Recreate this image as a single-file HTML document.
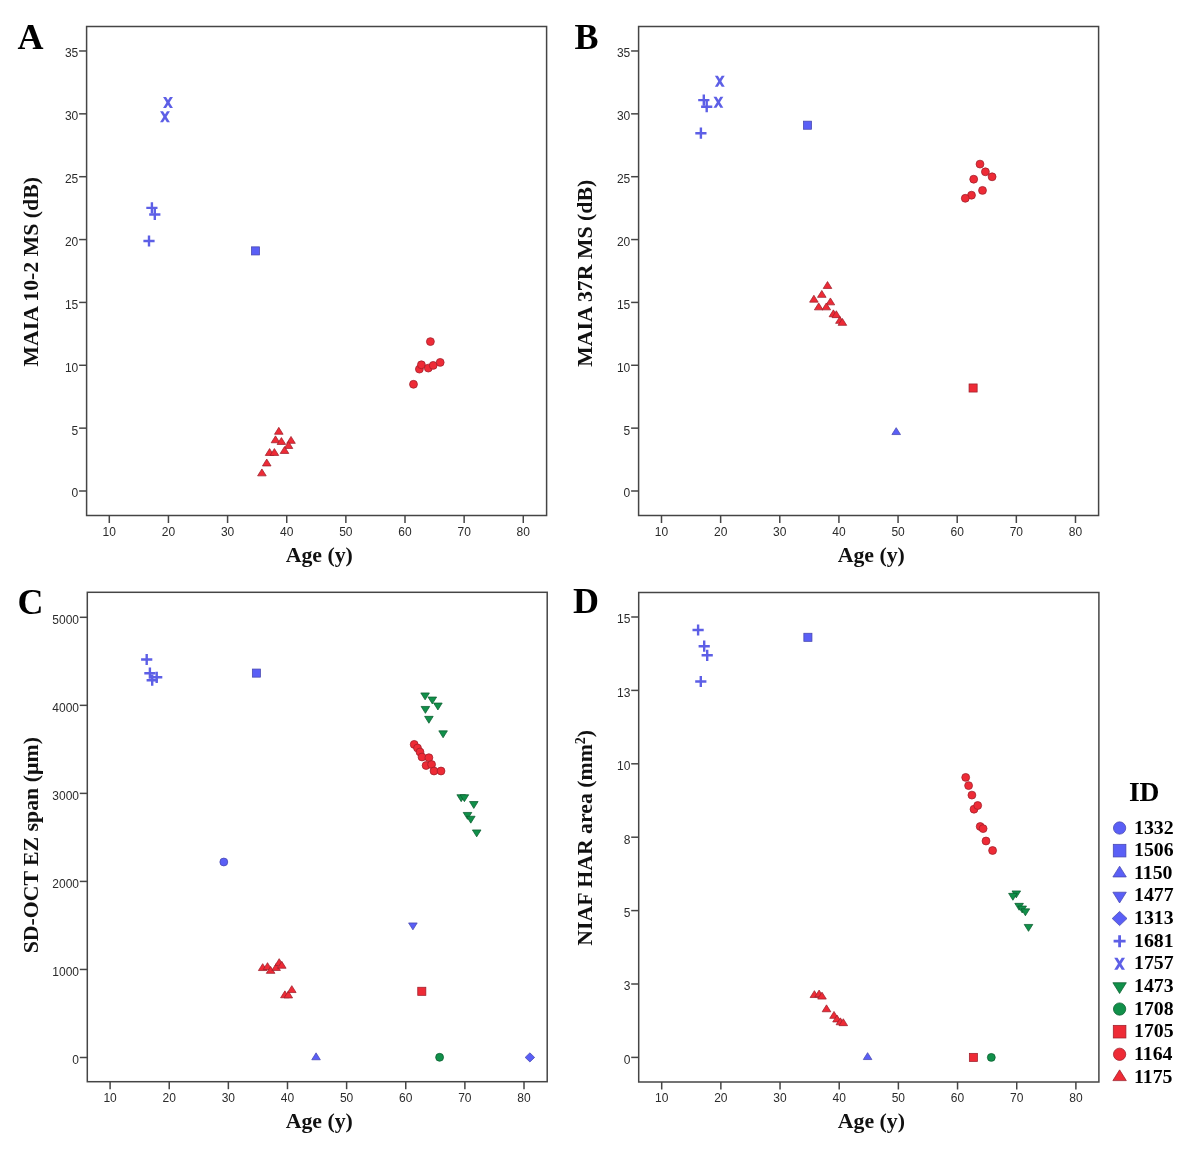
<!DOCTYPE html>
<html><head><meta charset="utf-8"><title>Figure</title>
<style>
html,body{margin:0;padding:0;background:#fff;}
body{width:1191px;height:1150px;overflow:hidden;font-family:"Liberation Sans",sans-serif;}
svg{display:block;filter:blur(0.4px);}
</style></head>
<body>
<svg width="1191" height="1150" viewBox="0 0 1191 1150">
<rect width="1191" height="1150" fill="#fff"/>
<rect x="86.60" y="26.50" width="460.00" height="489.00" fill="none" stroke="#454545" stroke-width="1.5"/>
<line x1="109.30" y1="515.50" x2="109.30" y2="523.00" stroke="#454545" stroke-width="1.5"/>
<text x="109.30" y="535.80" font-family="Liberation Sans" font-size="12" font-weight="normal" text-anchor="middle" fill="#2b2b2b" >10</text>
<line x1="168.44" y1="515.50" x2="168.44" y2="523.00" stroke="#454545" stroke-width="1.5"/>
<text x="168.44" y="535.80" font-family="Liberation Sans" font-size="12" font-weight="normal" text-anchor="middle" fill="#2b2b2b" >20</text>
<line x1="227.58" y1="515.50" x2="227.58" y2="523.00" stroke="#454545" stroke-width="1.5"/>
<text x="227.58" y="535.80" font-family="Liberation Sans" font-size="12" font-weight="normal" text-anchor="middle" fill="#2b2b2b" >30</text>
<line x1="286.72" y1="515.50" x2="286.72" y2="523.00" stroke="#454545" stroke-width="1.5"/>
<text x="286.72" y="535.80" font-family="Liberation Sans" font-size="12" font-weight="normal" text-anchor="middle" fill="#2b2b2b" >40</text>
<line x1="345.86" y1="515.50" x2="345.86" y2="523.00" stroke="#454545" stroke-width="1.5"/>
<text x="345.86" y="535.80" font-family="Liberation Sans" font-size="12" font-weight="normal" text-anchor="middle" fill="#2b2b2b" >50</text>
<line x1="405.00" y1="515.50" x2="405.00" y2="523.00" stroke="#454545" stroke-width="1.5"/>
<text x="405.00" y="535.80" font-family="Liberation Sans" font-size="12" font-weight="normal" text-anchor="middle" fill="#2b2b2b" >60</text>
<line x1="464.14" y1="515.50" x2="464.14" y2="523.00" stroke="#454545" stroke-width="1.5"/>
<text x="464.14" y="535.80" font-family="Liberation Sans" font-size="12" font-weight="normal" text-anchor="middle" fill="#2b2b2b" >70</text>
<line x1="523.28" y1="515.50" x2="523.28" y2="523.00" stroke="#454545" stroke-width="1.5"/>
<text x="523.28" y="535.80" font-family="Liberation Sans" font-size="12" font-weight="normal" text-anchor="middle" fill="#2b2b2b" >80</text>
<line x1="79.10" y1="491.00" x2="86.60" y2="491.00" stroke="#454545" stroke-width="1.5"/>
<text x="78.30" y="497.40" font-family="Liberation Sans" font-size="12" font-weight="normal" text-anchor="end" fill="#2b2b2b" >0</text>
<line x1="79.10" y1="428.14" x2="86.60" y2="428.14" stroke="#454545" stroke-width="1.5"/>
<text x="78.30" y="434.54" font-family="Liberation Sans" font-size="12" font-weight="normal" text-anchor="end" fill="#2b2b2b" >5</text>
<line x1="79.10" y1="365.28" x2="86.60" y2="365.28" stroke="#454545" stroke-width="1.5"/>
<text x="78.30" y="371.68" font-family="Liberation Sans" font-size="12" font-weight="normal" text-anchor="end" fill="#2b2b2b" >10</text>
<line x1="79.10" y1="302.42" x2="86.60" y2="302.42" stroke="#454545" stroke-width="1.5"/>
<text x="78.30" y="308.82" font-family="Liberation Sans" font-size="12" font-weight="normal" text-anchor="end" fill="#2b2b2b" >15</text>
<line x1="79.10" y1="239.56" x2="86.60" y2="239.56" stroke="#454545" stroke-width="1.5"/>
<text x="78.30" y="245.96" font-family="Liberation Sans" font-size="12" font-weight="normal" text-anchor="end" fill="#2b2b2b" >20</text>
<line x1="79.10" y1="176.70" x2="86.60" y2="176.70" stroke="#454545" stroke-width="1.5"/>
<text x="78.30" y="183.10" font-family="Liberation Sans" font-size="12" font-weight="normal" text-anchor="end" fill="#2b2b2b" >25</text>
<line x1="79.10" y1="113.84" x2="86.60" y2="113.84" stroke="#454545" stroke-width="1.5"/>
<text x="78.30" y="120.24" font-family="Liberation Sans" font-size="12" font-weight="normal" text-anchor="end" fill="#2b2b2b" >30</text>
<line x1="79.10" y1="50.98" x2="86.60" y2="50.98" stroke="#454545" stroke-width="1.5"/>
<text x="78.30" y="57.38" font-family="Liberation Sans" font-size="12" font-weight="normal" text-anchor="end" fill="#2b2b2b" >35</text>
<rect x="638.60" y="26.50" width="460.00" height="489.00" fill="none" stroke="#454545" stroke-width="1.5"/>
<line x1="661.50" y1="515.50" x2="661.50" y2="523.00" stroke="#454545" stroke-width="1.5"/>
<text x="661.50" y="535.80" font-family="Liberation Sans" font-size="12" font-weight="normal" text-anchor="middle" fill="#2b2b2b" >10</text>
<line x1="720.64" y1="515.50" x2="720.64" y2="523.00" stroke="#454545" stroke-width="1.5"/>
<text x="720.64" y="535.80" font-family="Liberation Sans" font-size="12" font-weight="normal" text-anchor="middle" fill="#2b2b2b" >20</text>
<line x1="779.78" y1="515.50" x2="779.78" y2="523.00" stroke="#454545" stroke-width="1.5"/>
<text x="779.78" y="535.80" font-family="Liberation Sans" font-size="12" font-weight="normal" text-anchor="middle" fill="#2b2b2b" >30</text>
<line x1="838.92" y1="515.50" x2="838.92" y2="523.00" stroke="#454545" stroke-width="1.5"/>
<text x="838.92" y="535.80" font-family="Liberation Sans" font-size="12" font-weight="normal" text-anchor="middle" fill="#2b2b2b" >40</text>
<line x1="898.06" y1="515.50" x2="898.06" y2="523.00" stroke="#454545" stroke-width="1.5"/>
<text x="898.06" y="535.80" font-family="Liberation Sans" font-size="12" font-weight="normal" text-anchor="middle" fill="#2b2b2b" >50</text>
<line x1="957.20" y1="515.50" x2="957.20" y2="523.00" stroke="#454545" stroke-width="1.5"/>
<text x="957.20" y="535.80" font-family="Liberation Sans" font-size="12" font-weight="normal" text-anchor="middle" fill="#2b2b2b" >60</text>
<line x1="1016.34" y1="515.50" x2="1016.34" y2="523.00" stroke="#454545" stroke-width="1.5"/>
<text x="1016.34" y="535.80" font-family="Liberation Sans" font-size="12" font-weight="normal" text-anchor="middle" fill="#2b2b2b" >70</text>
<line x1="1075.48" y1="515.50" x2="1075.48" y2="523.00" stroke="#454545" stroke-width="1.5"/>
<text x="1075.48" y="535.80" font-family="Liberation Sans" font-size="12" font-weight="normal" text-anchor="middle" fill="#2b2b2b" >80</text>
<line x1="631.10" y1="491.00" x2="638.60" y2="491.00" stroke="#454545" stroke-width="1.5"/>
<text x="630.30" y="497.40" font-family="Liberation Sans" font-size="12" font-weight="normal" text-anchor="end" fill="#2b2b2b" >0</text>
<line x1="631.10" y1="428.14" x2="638.60" y2="428.14" stroke="#454545" stroke-width="1.5"/>
<text x="630.30" y="434.54" font-family="Liberation Sans" font-size="12" font-weight="normal" text-anchor="end" fill="#2b2b2b" >5</text>
<line x1="631.10" y1="365.28" x2="638.60" y2="365.28" stroke="#454545" stroke-width="1.5"/>
<text x="630.30" y="371.68" font-family="Liberation Sans" font-size="12" font-weight="normal" text-anchor="end" fill="#2b2b2b" >10</text>
<line x1="631.10" y1="302.42" x2="638.60" y2="302.42" stroke="#454545" stroke-width="1.5"/>
<text x="630.30" y="308.82" font-family="Liberation Sans" font-size="12" font-weight="normal" text-anchor="end" fill="#2b2b2b" >15</text>
<line x1="631.10" y1="239.56" x2="638.60" y2="239.56" stroke="#454545" stroke-width="1.5"/>
<text x="630.30" y="245.96" font-family="Liberation Sans" font-size="12" font-weight="normal" text-anchor="end" fill="#2b2b2b" >20</text>
<line x1="631.10" y1="176.70" x2="638.60" y2="176.70" stroke="#454545" stroke-width="1.5"/>
<text x="630.30" y="183.10" font-family="Liberation Sans" font-size="12" font-weight="normal" text-anchor="end" fill="#2b2b2b" >25</text>
<line x1="631.10" y1="113.84" x2="638.60" y2="113.84" stroke="#454545" stroke-width="1.5"/>
<text x="630.30" y="120.24" font-family="Liberation Sans" font-size="12" font-weight="normal" text-anchor="end" fill="#2b2b2b" >30</text>
<line x1="631.10" y1="50.98" x2="638.60" y2="50.98" stroke="#454545" stroke-width="1.5"/>
<text x="630.30" y="57.38" font-family="Liberation Sans" font-size="12" font-weight="normal" text-anchor="end" fill="#2b2b2b" >35</text>
<rect x="87.30" y="592.30" width="459.90" height="489.40" fill="none" stroke="#454545" stroke-width="1.5"/>
<line x1="110.10" y1="1081.70" x2="110.10" y2="1089.20" stroke="#454545" stroke-width="1.5"/>
<text x="110.10" y="1102.00" font-family="Liberation Sans" font-size="12" font-weight="normal" text-anchor="middle" fill="#2b2b2b" >10</text>
<line x1="169.23" y1="1081.70" x2="169.23" y2="1089.20" stroke="#454545" stroke-width="1.5"/>
<text x="169.23" y="1102.00" font-family="Liberation Sans" font-size="12" font-weight="normal" text-anchor="middle" fill="#2b2b2b" >20</text>
<line x1="228.36" y1="1081.70" x2="228.36" y2="1089.20" stroke="#454545" stroke-width="1.5"/>
<text x="228.36" y="1102.00" font-family="Liberation Sans" font-size="12" font-weight="normal" text-anchor="middle" fill="#2b2b2b" >30</text>
<line x1="287.49" y1="1081.70" x2="287.49" y2="1089.20" stroke="#454545" stroke-width="1.5"/>
<text x="287.49" y="1102.00" font-family="Liberation Sans" font-size="12" font-weight="normal" text-anchor="middle" fill="#2b2b2b" >40</text>
<line x1="346.62" y1="1081.70" x2="346.62" y2="1089.20" stroke="#454545" stroke-width="1.5"/>
<text x="346.62" y="1102.00" font-family="Liberation Sans" font-size="12" font-weight="normal" text-anchor="middle" fill="#2b2b2b" >50</text>
<line x1="405.75" y1="1081.70" x2="405.75" y2="1089.20" stroke="#454545" stroke-width="1.5"/>
<text x="405.75" y="1102.00" font-family="Liberation Sans" font-size="12" font-weight="normal" text-anchor="middle" fill="#2b2b2b" >60</text>
<line x1="464.88" y1="1081.70" x2="464.88" y2="1089.20" stroke="#454545" stroke-width="1.5"/>
<text x="464.88" y="1102.00" font-family="Liberation Sans" font-size="12" font-weight="normal" text-anchor="middle" fill="#2b2b2b" >70</text>
<line x1="524.01" y1="1081.70" x2="524.01" y2="1089.20" stroke="#454545" stroke-width="1.5"/>
<text x="524.01" y="1102.00" font-family="Liberation Sans" font-size="12" font-weight="normal" text-anchor="middle" fill="#2b2b2b" >80</text>
<line x1="79.80" y1="1057.50" x2="87.30" y2="1057.50" stroke="#454545" stroke-width="1.5"/>
<text x="79.00" y="1063.90" font-family="Liberation Sans" font-size="12" font-weight="normal" text-anchor="end" fill="#2b2b2b" >0</text>
<line x1="79.80" y1="969.46" x2="87.30" y2="969.46" stroke="#454545" stroke-width="1.5"/>
<text x="79.00" y="975.86" font-family="Liberation Sans" font-size="12" font-weight="normal" text-anchor="end" fill="#2b2b2b" >1000</text>
<line x1="79.80" y1="881.42" x2="87.30" y2="881.42" stroke="#454545" stroke-width="1.5"/>
<text x="79.00" y="887.82" font-family="Liberation Sans" font-size="12" font-weight="normal" text-anchor="end" fill="#2b2b2b" >2000</text>
<line x1="79.80" y1="793.38" x2="87.30" y2="793.38" stroke="#454545" stroke-width="1.5"/>
<text x="79.00" y="799.78" font-family="Liberation Sans" font-size="12" font-weight="normal" text-anchor="end" fill="#2b2b2b" >3000</text>
<line x1="79.80" y1="705.34" x2="87.30" y2="705.34" stroke="#454545" stroke-width="1.5"/>
<text x="79.00" y="711.74" font-family="Liberation Sans" font-size="12" font-weight="normal" text-anchor="end" fill="#2b2b2b" >4000</text>
<line x1="79.80" y1="617.30" x2="87.30" y2="617.30" stroke="#454545" stroke-width="1.5"/>
<text x="79.00" y="623.70" font-family="Liberation Sans" font-size="12" font-weight="normal" text-anchor="end" fill="#2b2b2b" >5000</text>
<rect x="638.70" y="592.50" width="460.20" height="489.50" fill="none" stroke="#454545" stroke-width="1.5"/>
<line x1="661.70" y1="1082.00" x2="661.70" y2="1089.50" stroke="#454545" stroke-width="1.5"/>
<text x="661.70" y="1102.30" font-family="Liberation Sans" font-size="12" font-weight="normal" text-anchor="middle" fill="#2b2b2b" >10</text>
<line x1="720.87" y1="1082.00" x2="720.87" y2="1089.50" stroke="#454545" stroke-width="1.5"/>
<text x="720.87" y="1102.30" font-family="Liberation Sans" font-size="12" font-weight="normal" text-anchor="middle" fill="#2b2b2b" >20</text>
<line x1="780.04" y1="1082.00" x2="780.04" y2="1089.50" stroke="#454545" stroke-width="1.5"/>
<text x="780.04" y="1102.30" font-family="Liberation Sans" font-size="12" font-weight="normal" text-anchor="middle" fill="#2b2b2b" >30</text>
<line x1="839.21" y1="1082.00" x2="839.21" y2="1089.50" stroke="#454545" stroke-width="1.5"/>
<text x="839.21" y="1102.30" font-family="Liberation Sans" font-size="12" font-weight="normal" text-anchor="middle" fill="#2b2b2b" >40</text>
<line x1="898.38" y1="1082.00" x2="898.38" y2="1089.50" stroke="#454545" stroke-width="1.5"/>
<text x="898.38" y="1102.30" font-family="Liberation Sans" font-size="12" font-weight="normal" text-anchor="middle" fill="#2b2b2b" >50</text>
<line x1="957.55" y1="1082.00" x2="957.55" y2="1089.50" stroke="#454545" stroke-width="1.5"/>
<text x="957.55" y="1102.30" font-family="Liberation Sans" font-size="12" font-weight="normal" text-anchor="middle" fill="#2b2b2b" >60</text>
<line x1="1016.72" y1="1082.00" x2="1016.72" y2="1089.50" stroke="#454545" stroke-width="1.5"/>
<text x="1016.72" y="1102.30" font-family="Liberation Sans" font-size="12" font-weight="normal" text-anchor="middle" fill="#2b2b2b" >70</text>
<line x1="1075.89" y1="1082.00" x2="1075.89" y2="1089.50" stroke="#454545" stroke-width="1.5"/>
<text x="1075.89" y="1102.30" font-family="Liberation Sans" font-size="12" font-weight="normal" text-anchor="middle" fill="#2b2b2b" >80</text>
<line x1="631.20" y1="1057.40" x2="638.70" y2="1057.40" stroke="#454545" stroke-width="1.5"/>
<text x="630.40" y="1063.80" font-family="Liberation Sans" font-size="12" font-weight="normal" text-anchor="end" fill="#2b2b2b" >0</text>
<line x1="631.20" y1="984.00" x2="638.70" y2="984.00" stroke="#454545" stroke-width="1.5"/>
<text x="630.40" y="990.40" font-family="Liberation Sans" font-size="12" font-weight="normal" text-anchor="end" fill="#2b2b2b" >3</text>
<line x1="631.20" y1="910.60" x2="638.70" y2="910.60" stroke="#454545" stroke-width="1.5"/>
<text x="630.40" y="917.00" font-family="Liberation Sans" font-size="12" font-weight="normal" text-anchor="end" fill="#2b2b2b" >5</text>
<line x1="631.20" y1="837.20" x2="638.70" y2="837.20" stroke="#454545" stroke-width="1.5"/>
<text x="630.40" y="843.60" font-family="Liberation Sans" font-size="12" font-weight="normal" text-anchor="end" fill="#2b2b2b" >8</text>
<line x1="631.20" y1="763.80" x2="638.70" y2="763.80" stroke="#454545" stroke-width="1.5"/>
<text x="630.40" y="770.20" font-family="Liberation Sans" font-size="12" font-weight="normal" text-anchor="end" fill="#2b2b2b" >10</text>
<line x1="631.20" y1="690.40" x2="638.70" y2="690.40" stroke="#454545" stroke-width="1.5"/>
<text x="630.40" y="696.80" font-family="Liberation Sans" font-size="12" font-weight="normal" text-anchor="end" fill="#2b2b2b" >13</text>
<line x1="631.20" y1="617.00" x2="638.70" y2="617.00" stroke="#454545" stroke-width="1.5"/>
<text x="630.40" y="623.40" font-family="Liberation Sans" font-size="12" font-weight="normal" text-anchor="end" fill="#2b2b2b" >15</text>
<text x="17.50" y="49.00" font-family="Liberation Serif" font-size="36" font-weight="bold" text-anchor="start" fill="#000" >A</text>
<text x="574.50" y="49.00" font-family="Liberation Serif" font-size="36" font-weight="bold" text-anchor="start" fill="#000" >B</text>
<text x="17.50" y="613.80" font-family="Liberation Serif" font-size="36" font-weight="bold" text-anchor="start" fill="#000" >C</text>
<text x="573.00" y="613.30" font-family="Liberation Serif" font-size="36" font-weight="bold" text-anchor="start" fill="#000" >D</text>
<text transform="translate(37.60,271.80) rotate(-90)" font-family="Liberation Serif" font-size="21.8" font-weight="bold" text-anchor="middle" fill="#111">MAIA 10-2 MS (dB)</text>
<text transform="translate(591.90,273.30) rotate(-90)" font-family="Liberation Serif" font-size="21.8" font-weight="bold" text-anchor="middle" fill="#111">MAIA 37R MS (dB)</text>
<text transform="translate(37.60,845.20) rotate(-90)" font-family="Liberation Serif" font-size="21.8" font-weight="bold" text-anchor="middle" fill="#111">SD-OCT EZ span (µm)</text>
<text transform="translate(591.80,837.80) rotate(-90)" font-family="Liberation Serif" font-size="21.8" font-weight="bold" text-anchor="middle" fill="#111">NIAF HAR area (mm<tspan font-size="14" dy="-6.8">2</tspan><tspan dy="6.8">)</tspan></text>
<text x="319.30" y="562.30" font-family="Liberation Serif" font-size="21.8" font-weight="bold" text-anchor="middle" fill="#111" >Age (y)</text>
<text x="871.30" y="562.30" font-family="Liberation Serif" font-size="21.8" font-weight="bold" text-anchor="middle" fill="#111" >Age (y)</text>
<text x="319.30" y="1127.70" font-family="Liberation Serif" font-size="21.8" font-weight="bold" text-anchor="middle" fill="#111" >Age (y)</text>
<text x="871.40" y="1127.70" font-family="Liberation Serif" font-size="21.8" font-weight="bold" text-anchor="middle" fill="#111" >Age (y)</text>
<polygon points="163.05,97.00 166.05,97.00 172.95,108.00 169.95,108.00" fill="#5d5fe6"/><polygon points="169.95,97.00 172.95,97.00 166.05,108.00 163.05,108.00" fill="#5d5fe6"/>
<polygon points="160.05,111.30 163.05,111.30 169.95,122.30 166.95,122.30" fill="#5d5fe6"/><polygon points="166.95,111.30 169.95,111.30 163.05,122.30 160.05,122.30" fill="#5d5fe6"/>
<path d="M146.30 207.90H157.50M151.90 202.30V213.50" stroke="#5d5fe6" stroke-width="2.40" fill="none"/>
<path d="M149.20 214.50H160.40M154.80 208.90V220.10" stroke="#5d5fe6" stroke-width="2.40" fill="none"/>
<path d="M143.40 241.00H154.60M149.00 235.40V246.60" stroke="#5d5fe6" stroke-width="2.40" fill="none"/>
<rect x="251.45" y="246.85" width="8.10" height="8.10" fill="#5a5ff6" stroke="#4747b0" stroke-width="0.75"/>
<polygon points="278.80,427.35 274.50,434.25 283.10,434.25" fill="#ee2b36" stroke="#9e1f2b" stroke-width="0.75" stroke-linejoin="round"/>
<polygon points="275.50,435.85 271.20,442.75 279.80,442.75" fill="#ee2b36" stroke="#9e1f2b" stroke-width="0.75" stroke-linejoin="round"/>
<polygon points="281.40,437.55 277.10,444.45 285.70,444.45" fill="#ee2b36" stroke="#9e1f2b" stroke-width="0.75" stroke-linejoin="round"/>
<polygon points="291.00,436.45 286.70,443.35 295.30,443.35" fill="#ee2b36" stroke="#9e1f2b" stroke-width="0.75" stroke-linejoin="round"/>
<polygon points="288.50,441.55 284.20,448.45 292.80,448.45" fill="#ee2b36" stroke="#9e1f2b" stroke-width="0.75" stroke-linejoin="round"/>
<polygon points="284.50,446.55 280.20,453.45 288.80,453.45" fill="#ee2b36" stroke="#9e1f2b" stroke-width="0.75" stroke-linejoin="round"/>
<polygon points="269.60,448.55 265.30,455.45 273.90,455.45" fill="#ee2b36" stroke="#9e1f2b" stroke-width="0.75" stroke-linejoin="round"/>
<polygon points="274.40,448.55 270.10,455.45 278.70,455.45" fill="#ee2b36" stroke="#9e1f2b" stroke-width="0.75" stroke-linejoin="round"/>
<polygon points="266.75,459.05 262.45,465.95 271.05,465.95" fill="#ee2b36" stroke="#9e1f2b" stroke-width="0.75" stroke-linejoin="round"/>
<polygon points="261.90,468.95 257.60,475.85 266.20,475.85" fill="#ee2b36" stroke="#9e1f2b" stroke-width="0.75" stroke-linejoin="round"/>
<circle cx="430.40" cy="341.60" r="3.95" fill="#ee2b36" stroke="#9e1f2b" stroke-width="0.75"/>
<circle cx="413.50" cy="384.30" r="3.95" fill="#ee2b36" stroke="#9e1f2b" stroke-width="0.75"/>
<circle cx="419.40" cy="369.10" r="3.95" fill="#ee2b36" stroke="#9e1f2b" stroke-width="0.75"/>
<circle cx="421.40" cy="364.80" r="3.95" fill="#ee2b36" stroke="#9e1f2b" stroke-width="0.75"/>
<circle cx="428.30" cy="368.10" r="3.95" fill="#ee2b36" stroke="#9e1f2b" stroke-width="0.75"/>
<circle cx="433.20" cy="365.40" r="3.95" fill="#ee2b36" stroke="#9e1f2b" stroke-width="0.75"/>
<circle cx="440.20" cy="362.40" r="3.95" fill="#ee2b36" stroke="#9e1f2b" stroke-width="0.75"/>
<polygon points="714.85,75.80 717.85,75.80 724.75,86.80 721.75,86.80" fill="#5d5fe6"/><polygon points="721.75,75.80 724.75,75.80 717.85,86.80 714.85,86.80" fill="#5d5fe6"/>
<polygon points="713.45,96.70 716.45,96.70 723.35,107.70 720.35,107.70" fill="#5d5fe6"/><polygon points="720.35,96.70 723.35,96.70 716.45,107.70 713.45,107.70" fill="#5d5fe6"/>
<path d="M698.20 100.10H709.40M703.80 94.50V105.70" stroke="#5d5fe6" stroke-width="2.40" fill="none"/>
<path d="M701.10 106.70H712.30M706.70 101.10V112.30" stroke="#5d5fe6" stroke-width="2.40" fill="none"/>
<path d="M695.30 133.20H706.50M700.90 127.60V138.80" stroke="#5d5fe6" stroke-width="2.40" fill="none"/>
<rect x="803.45" y="121.15" width="8.10" height="8.10" fill="#5a5ff6" stroke="#4747b0" stroke-width="0.75"/>
<circle cx="980.00" cy="164.10" r="3.95" fill="#ee2b36" stroke="#9e1f2b" stroke-width="0.75"/>
<circle cx="985.40" cy="171.80" r="3.95" fill="#ee2b36" stroke="#9e1f2b" stroke-width="0.75"/>
<circle cx="992.10" cy="176.80" r="3.95" fill="#ee2b36" stroke="#9e1f2b" stroke-width="0.75"/>
<circle cx="973.70" cy="179.20" r="3.95" fill="#ee2b36" stroke="#9e1f2b" stroke-width="0.75"/>
<circle cx="982.50" cy="190.40" r="3.95" fill="#ee2b36" stroke="#9e1f2b" stroke-width="0.75"/>
<circle cx="971.50" cy="195.20" r="3.95" fill="#ee2b36" stroke="#9e1f2b" stroke-width="0.75"/>
<circle cx="965.30" cy="198.30" r="3.95" fill="#ee2b36" stroke="#9e1f2b" stroke-width="0.75"/>
<polygon points="827.50,281.55 823.20,288.45 831.80,288.45" fill="#ee2b36" stroke="#9e1f2b" stroke-width="0.75" stroke-linejoin="round"/>
<polygon points="821.80,290.45 817.50,297.35 826.10,297.35" fill="#ee2b36" stroke="#9e1f2b" stroke-width="0.75" stroke-linejoin="round"/>
<polygon points="813.90,295.25 809.60,302.15 818.20,302.15" fill="#ee2b36" stroke="#9e1f2b" stroke-width="0.75" stroke-linejoin="round"/>
<polygon points="830.40,297.95 826.10,304.85 834.70,304.85" fill="#ee2b36" stroke="#9e1f2b" stroke-width="0.75" stroke-linejoin="round"/>
<polygon points="818.70,302.95 814.40,309.85 823.00,309.85" fill="#ee2b36" stroke="#9e1f2b" stroke-width="0.75" stroke-linejoin="round"/>
<polygon points="826.30,302.95 822.00,309.85 830.60,309.85" fill="#ee2b36" stroke="#9e1f2b" stroke-width="0.75" stroke-linejoin="round"/>
<polygon points="833.40,309.85 829.10,316.75 837.70,316.75" fill="#ee2b36" stroke="#9e1f2b" stroke-width="0.75" stroke-linejoin="round"/>
<polygon points="836.30,310.75 832.00,317.65 840.60,317.65" fill="#ee2b36" stroke="#9e1f2b" stroke-width="0.75" stroke-linejoin="round"/>
<polygon points="839.90,316.45 835.60,323.35 844.20,323.35" fill="#ee2b36" stroke="#9e1f2b" stroke-width="0.75" stroke-linejoin="round"/>
<polygon points="842.40,318.45 838.10,325.35 846.70,325.35" fill="#ee2b36" stroke="#9e1f2b" stroke-width="0.75" stroke-linejoin="round"/>
<rect x="969.05" y="383.95" width="8.10" height="8.10" fill="#ee2b36" stroke="#9e1f2b" stroke-width="0.75"/>
<polygon points="896.20,427.65 891.90,434.55 900.50,434.55" fill="#5a5ff6" stroke="#4747b0" stroke-width="0.75" stroke-linejoin="round"/>
<path d="M141.10 659.50H152.30M146.70 653.90V665.10" stroke="#5d5fe6" stroke-width="2.40" fill="none"/>
<path d="M144.30 673.20H155.50M149.90 667.60V678.80" stroke="#5d5fe6" stroke-width="2.40" fill="none"/>
<path d="M151.10 677.30H162.30M156.70 671.70V682.90" stroke="#5d5fe6" stroke-width="2.40" fill="none"/>
<path d="M146.60 680.20H157.80M152.20 674.60V685.80" stroke="#5d5fe6" stroke-width="2.40" fill="none"/>
<rect x="252.35" y="669.05" width="8.10" height="8.10" fill="#5a5ff6" stroke="#4747b0" stroke-width="0.75"/>
<polygon points="425.10,699.85 420.80,692.95 429.40,692.95" fill="#11904a" stroke="#0a5c2e" stroke-width="0.75" stroke-linejoin="round"/>
<polygon points="432.30,703.95 428.00,697.05 436.60,697.05" fill="#11904a" stroke="#0a5c2e" stroke-width="0.75" stroke-linejoin="round"/>
<polygon points="437.90,709.95 433.60,703.05 442.20,703.05" fill="#11904a" stroke="#0a5c2e" stroke-width="0.75" stroke-linejoin="round"/>
<polygon points="425.40,713.35 421.10,706.45 429.70,706.45" fill="#11904a" stroke="#0a5c2e" stroke-width="0.75" stroke-linejoin="round"/>
<polygon points="428.90,723.25 424.60,716.35 433.20,716.35" fill="#11904a" stroke="#0a5c2e" stroke-width="0.75" stroke-linejoin="round"/>
<polygon points="443.10,737.75 438.80,730.85 447.40,730.85" fill="#11904a" stroke="#0a5c2e" stroke-width="0.75" stroke-linejoin="round"/>
<polygon points="461.20,801.65 456.90,794.75 465.50,794.75" fill="#11904a" stroke="#0a5c2e" stroke-width="0.75" stroke-linejoin="round"/>
<polygon points="464.40,801.65 460.10,794.75 468.70,794.75" fill="#11904a" stroke="#0a5c2e" stroke-width="0.75" stroke-linejoin="round"/>
<polygon points="473.80,808.45 469.50,801.55 478.10,801.55" fill="#11904a" stroke="#0a5c2e" stroke-width="0.75" stroke-linejoin="round"/>
<polygon points="467.50,819.35 463.20,812.45 471.80,812.45" fill="#11904a" stroke="#0a5c2e" stroke-width="0.75" stroke-linejoin="round"/>
<polygon points="470.80,823.15 466.50,816.25 475.10,816.25" fill="#11904a" stroke="#0a5c2e" stroke-width="0.75" stroke-linejoin="round"/>
<polygon points="476.70,836.85 472.40,829.95 481.00,829.95" fill="#11904a" stroke="#0a5c2e" stroke-width="0.75" stroke-linejoin="round"/>
<circle cx="414.20" cy="744.40" r="3.95" fill="#ee2b36" stroke="#9e1f2b" stroke-width="0.75"/>
<circle cx="417.50" cy="748.00" r="3.95" fill="#ee2b36" stroke="#9e1f2b" stroke-width="0.75"/>
<circle cx="420.00" cy="752.00" r="3.95" fill="#ee2b36" stroke="#9e1f2b" stroke-width="0.75"/>
<circle cx="422.00" cy="757.00" r="3.95" fill="#ee2b36" stroke="#9e1f2b" stroke-width="0.75"/>
<circle cx="428.90" cy="757.70" r="3.95" fill="#ee2b36" stroke="#9e1f2b" stroke-width="0.75"/>
<circle cx="426.10" cy="765.50" r="3.95" fill="#ee2b36" stroke="#9e1f2b" stroke-width="0.75"/>
<circle cx="431.60" cy="764.50" r="3.95" fill="#ee2b36" stroke="#9e1f2b" stroke-width="0.75"/>
<circle cx="434.00" cy="771.00" r="3.95" fill="#ee2b36" stroke="#9e1f2b" stroke-width="0.75"/>
<circle cx="441.00" cy="771.00" r="3.95" fill="#ee2b36" stroke="#9e1f2b" stroke-width="0.75"/>
<circle cx="223.80" cy="862.00" r="3.95" fill="#5a5ff6" stroke="#4747b0" stroke-width="0.75"/>
<polygon points="412.90,929.85 408.60,922.95 417.20,922.95" fill="#5a5ff6" stroke="#4747b0" stroke-width="0.75" stroke-linejoin="round"/>
<polygon points="262.70,963.65 258.40,970.55 267.00,970.55" fill="#ee2b36" stroke="#9e1f2b" stroke-width="0.75" stroke-linejoin="round"/>
<polygon points="267.50,962.65 263.20,969.55 271.80,969.55" fill="#ee2b36" stroke="#9e1f2b" stroke-width="0.75" stroke-linejoin="round"/>
<polygon points="270.60,966.45 266.30,973.35 274.90,973.35" fill="#ee2b36" stroke="#9e1f2b" stroke-width="0.75" stroke-linejoin="round"/>
<polygon points="276.10,963.55 271.80,970.45 280.40,970.45" fill="#ee2b36" stroke="#9e1f2b" stroke-width="0.75" stroke-linejoin="round"/>
<polygon points="279.20,958.65 274.90,965.55 283.50,965.55" fill="#ee2b36" stroke="#9e1f2b" stroke-width="0.75" stroke-linejoin="round"/>
<polygon points="281.80,961.35 277.50,968.25 286.10,968.25" fill="#ee2b36" stroke="#9e1f2b" stroke-width="0.75" stroke-linejoin="round"/>
<polygon points="284.90,990.85 280.60,997.75 289.20,997.75" fill="#ee2b36" stroke="#9e1f2b" stroke-width="0.75" stroke-linejoin="round"/>
<polygon points="288.30,991.05 284.00,997.95 292.60,997.95" fill="#ee2b36" stroke="#9e1f2b" stroke-width="0.75" stroke-linejoin="round"/>
<polygon points="291.80,985.65 287.50,992.55 296.10,992.55" fill="#ee2b36" stroke="#9e1f2b" stroke-width="0.75" stroke-linejoin="round"/>
<rect x="417.75" y="987.25" width="8.10" height="8.10" fill="#ee2b36" stroke="#9e1f2b" stroke-width="0.75"/>
<polygon points="316.05,1052.85 311.75,1059.75 320.35,1059.75" fill="#5a5ff6" stroke="#4747b0" stroke-width="0.75" stroke-linejoin="round"/>
<circle cx="439.60" cy="1057.30" r="3.95" fill="#11904a" stroke="#0a5c2e" stroke-width="0.75"/>
<polygon points="529.90,1052.85 534.65,1057.40 529.90,1061.95 525.15,1057.40" fill="#5a5ff6" stroke="#4747b0" stroke-width="0.75"/>
<path d="M692.50 630.00H703.70M698.10 624.40V635.60" stroke="#5d5fe6" stroke-width="2.40" fill="none"/>
<path d="M698.60 646.20H709.80M704.20 640.60V651.80" stroke="#5d5fe6" stroke-width="2.40" fill="none"/>
<path d="M701.60 655.30H712.80M707.20 649.70V660.90" stroke="#5d5fe6" stroke-width="2.40" fill="none"/>
<path d="M695.20 681.50H706.40M700.80 675.90V687.10" stroke="#5d5fe6" stroke-width="2.40" fill="none"/>
<rect x="803.85" y="633.25" width="8.10" height="8.10" fill="#5a5ff6" stroke="#4747b0" stroke-width="0.75"/>
<circle cx="965.70" cy="777.40" r="3.95" fill="#ee2b36" stroke="#9e1f2b" stroke-width="0.75"/>
<circle cx="968.60" cy="785.60" r="3.95" fill="#ee2b36" stroke="#9e1f2b" stroke-width="0.75"/>
<circle cx="971.90" cy="795.10" r="3.95" fill="#ee2b36" stroke="#9e1f2b" stroke-width="0.75"/>
<circle cx="974.00" cy="809.20" r="3.95" fill="#ee2b36" stroke="#9e1f2b" stroke-width="0.75"/>
<circle cx="977.70" cy="805.50" r="3.95" fill="#ee2b36" stroke="#9e1f2b" stroke-width="0.75"/>
<circle cx="980.20" cy="826.50" r="3.95" fill="#ee2b36" stroke="#9e1f2b" stroke-width="0.75"/>
<circle cx="983.10" cy="828.60" r="3.95" fill="#ee2b36" stroke="#9e1f2b" stroke-width="0.75"/>
<circle cx="986.00" cy="841.00" r="3.95" fill="#ee2b36" stroke="#9e1f2b" stroke-width="0.75"/>
<circle cx="992.60" cy="850.50" r="3.95" fill="#ee2b36" stroke="#9e1f2b" stroke-width="0.75"/>
<polygon points="1016.30,897.85 1012.00,890.95 1020.60,890.95" fill="#11904a" stroke="#0a5c2e" stroke-width="0.75" stroke-linejoin="round"/>
<polygon points="1012.90,900.25 1008.60,893.35 1017.20,893.35" fill="#11904a" stroke="#0a5c2e" stroke-width="0.75" stroke-linejoin="round"/>
<polygon points="1019.10,910.25 1014.80,903.35 1023.40,903.35" fill="#11904a" stroke="#0a5c2e" stroke-width="0.75" stroke-linejoin="round"/>
<polygon points="1022.20,912.95 1017.90,906.05 1026.50,906.05" fill="#11904a" stroke="#0a5c2e" stroke-width="0.75" stroke-linejoin="round"/>
<polygon points="1025.40,915.75 1021.10,908.85 1029.70,908.85" fill="#11904a" stroke="#0a5c2e" stroke-width="0.75" stroke-linejoin="round"/>
<polygon points="1028.50,931.35 1024.20,924.45 1032.80,924.45" fill="#11904a" stroke="#0a5c2e" stroke-width="0.75" stroke-linejoin="round"/>
<polygon points="814.40,990.65 810.10,997.55 818.70,997.55" fill="#ee2b36" stroke="#9e1f2b" stroke-width="0.75" stroke-linejoin="round"/>
<polygon points="819.10,990.05 814.80,996.95 823.40,996.95" fill="#ee2b36" stroke="#9e1f2b" stroke-width="0.75" stroke-linejoin="round"/>
<polygon points="822.00,992.15 817.70,999.05 826.30,999.05" fill="#ee2b36" stroke="#9e1f2b" stroke-width="0.75" stroke-linejoin="round"/>
<polygon points="826.50,1004.85 822.20,1011.75 830.80,1011.75" fill="#ee2b36" stroke="#9e1f2b" stroke-width="0.75" stroke-linejoin="round"/>
<polygon points="834.00,1011.45 829.70,1018.35 838.30,1018.35" fill="#ee2b36" stroke="#9e1f2b" stroke-width="0.75" stroke-linejoin="round"/>
<polygon points="837.00,1015.05 832.70,1021.95 841.30,1021.95" fill="#ee2b36" stroke="#9e1f2b" stroke-width="0.75" stroke-linejoin="round"/>
<polygon points="840.40,1017.85 836.10,1024.75 844.70,1024.75" fill="#ee2b36" stroke="#9e1f2b" stroke-width="0.75" stroke-linejoin="round"/>
<polygon points="843.30,1018.75 839.00,1025.65 847.60,1025.65" fill="#ee2b36" stroke="#9e1f2b" stroke-width="0.75" stroke-linejoin="round"/>
<polygon points="867.60,1052.65 863.30,1059.55 871.90,1059.55" fill="#5a5ff6" stroke="#4747b0" stroke-width="0.75" stroke-linejoin="round"/>
<rect x="969.35" y="1053.35" width="8.10" height="8.10" fill="#ee2b36" stroke="#9e1f2b" stroke-width="0.75"/>
<circle cx="991.30" cy="1057.40" r="3.95" fill="#11904a" stroke="#0a5c2e" stroke-width="0.75"/>
<text x="1144.20" y="801.20" font-family="Liberation Serif" font-size="27.5" font-weight="bold" text-anchor="middle" fill="#000" >ID</text>
<circle cx="1119.60" cy="828.00" r="6.16" fill="#5a5ff6" stroke="#4747b0" stroke-width="0.75"/>
<text x="1134.00" y="833.60" font-family="Liberation Serif" font-size="19.8" font-weight="bold" text-anchor="start" fill="#000" >1332</text>
<rect x="1113.28" y="844.31" width="12.64" height="12.64" fill="#5a5ff6" stroke="#4747b0" stroke-width="0.75"/>
<text x="1134.00" y="856.23" font-family="Liberation Serif" font-size="19.8" font-weight="bold" text-anchor="start" fill="#000" >1506</text>
<polygon points="1119.60,866.18 1112.89,876.94 1126.31,876.94" fill="#5a5ff6" stroke="#4747b0" stroke-width="0.75" stroke-linejoin="round"/>
<text x="1134.00" y="878.86" font-family="Liberation Serif" font-size="19.8" font-weight="bold" text-anchor="start" fill="#000" >1150</text>
<polygon points="1119.60,902.97 1112.89,892.21 1126.31,892.21" fill="#5a5ff6" stroke="#4747b0" stroke-width="0.75" stroke-linejoin="round"/>
<text x="1134.00" y="901.49" font-family="Liberation Serif" font-size="19.8" font-weight="bold" text-anchor="start" fill="#000" >1477</text>
<polygon points="1119.60,911.42 1127.01,918.52 1119.60,925.62 1112.19,918.52" fill="#5a5ff6" stroke="#4747b0" stroke-width="0.75"/>
<text x="1134.00" y="924.12" font-family="Liberation Serif" font-size="19.8" font-weight="bold" text-anchor="start" fill="#000" >1313</text>
<path d="M1113.60 941.15H1125.60M1119.60 935.15V947.15" stroke="#5d5fe6" stroke-width="2.80" fill="none"/>
<text x="1134.00" y="946.75" font-family="Liberation Serif" font-size="19.8" font-weight="bold" text-anchor="start" fill="#000" >1681</text>
<polygon points="1114.20,957.78 1117.50,957.78 1125.00,969.78 1121.70,969.78" fill="#5d5fe6"/><polygon points="1121.70,957.78 1125.00,957.78 1117.50,969.78 1114.20,969.78" fill="#5d5fe6"/>
<text x="1134.00" y="969.38" font-family="Liberation Serif" font-size="19.8" font-weight="bold" text-anchor="start" fill="#000" >1757</text>
<polygon points="1119.60,993.49 1112.89,982.73 1126.31,982.73" fill="#11904a" stroke="#0a5c2e" stroke-width="0.75" stroke-linejoin="round"/>
<text x="1134.00" y="992.01" font-family="Liberation Serif" font-size="19.8" font-weight="bold" text-anchor="start" fill="#000" >1473</text>
<circle cx="1119.60" cy="1009.04" r="6.16" fill="#11904a" stroke="#0a5c2e" stroke-width="0.75"/>
<text x="1134.00" y="1014.64" font-family="Liberation Serif" font-size="19.8" font-weight="bold" text-anchor="start" fill="#000" >1708</text>
<rect x="1113.28" y="1025.35" width="12.64" height="12.64" fill="#ee2b36" stroke="#9e1f2b" stroke-width="0.75"/>
<text x="1134.00" y="1037.27" font-family="Liberation Serif" font-size="19.8" font-weight="bold" text-anchor="start" fill="#000" >1705</text>
<circle cx="1119.60" cy="1054.30" r="6.16" fill="#ee2b36" stroke="#9e1f2b" stroke-width="0.75"/>
<text x="1134.00" y="1059.90" font-family="Liberation Serif" font-size="19.8" font-weight="bold" text-anchor="start" fill="#000" >1164</text>
<polygon points="1119.60,1069.85 1112.89,1080.61 1126.31,1080.61" fill="#ee2b36" stroke="#9e1f2b" stroke-width="0.75" stroke-linejoin="round"/>
<text x="1134.00" y="1082.53" font-family="Liberation Serif" font-size="19.8" font-weight="bold" text-anchor="start" fill="#000" >1175</text>
</svg>
</body></html>
